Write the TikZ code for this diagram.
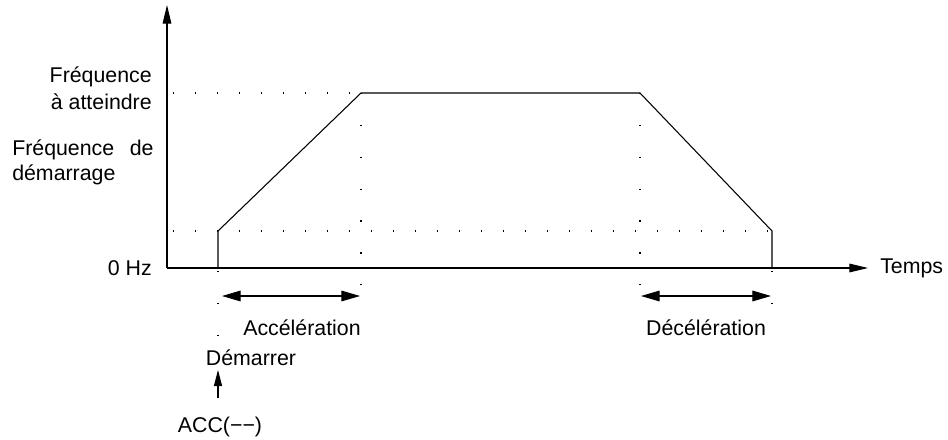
\documentclass[tikz,border=0pt]{standalone}
\usepackage{fontspec}
\setmainfont{Liberation Sans}
\usetikzlibrary{arrows.meta}
\begin{document}
\begin{tikzpicture}[x=0.75pt,y=-0.75pt,
  lbl/.style={font=\fontsize{16}{19}\selectfont,inner sep=0pt},
  ax/.style={line width=0.8pt,-{Triangle[length=14pt,width=6.5pt]}},
  crv/.style={line width=0.8pt},
  dotx/.style={line width=0.9pt,dash pattern=on 0.9pt off 15.6pt},
  doty/.style={line width=0.9pt,dash pattern=on 0.9pt off 23pt},
  dbl/.style={line width=0.8pt,{Triangle[length=14pt,width=8pt]}-{Triangle[length=14pt,width=8pt]}}]
\useasboundingbox (0,0) rectangle (948,439);
\coordinate (O) at (167,268);
\coordinate (ytop) at (167,5);
\coordinate (xend) at (868,268);
\coordinate (s0) at (218,268);
\coordinate (s1) at (218,231);
\coordinate (p1) at (361,93);
\coordinate (p2) at (640,93);
\coordinate (e1) at (772,231);
\coordinate (e0) at (772,268);
\draw[ax] (O) -- (ytop);
\draw[ax] (O) -- (xend);
\draw[crv] (s0) -- (s1) -- (p1) -- (p2) -- (e1) -- (e0);
\draw[dotx] (173,93) -- (p1);
\draw[dotx] (173,231) -- (e1);
\draw[doty] (p1) -- (361,315);
\draw[doty] (p2) -- (640,315);
\draw[doty] (s0) ++(0,3) -- (218,345);
\draw[doty] (e0) ++(0,3) -- (772,315);
\coordinate (a1) at (222,296);
\coordinate (a2) at (360,296);
\coordinate (d1) at (641,296);
\coordinate (d2) at (771,296);
\draw[dbl] (a1) -- (a2);
\draw[dbl] (d1) -- (d2);
\node[lbl,anchor=east] (f1) at (152,77) {Fréquence};
\node[lbl,anchor=east] (f2) at (152,102) {à atteindre};
\node[lbl,anchor=west] (g1) at (12,150) {\makebox[106pt][s]{Fréquence\hfill de}};
\node[lbl,anchor=west] (g2) at (12,175) {démarrage};
\node[lbl,anchor=east] (z) at (152,268) {0 Hz};
\node[lbl,anchor=west] (t) at (880,268) {Temps};
\node[lbl] (acc) at (302,328) {Accélération};
\node[lbl] (dec) at (706,328) {Décélération};
\node[lbl] (dem) at (251,358) {Démarrer};
\node[lbl] (ac) at (220,427) {ACC(−−)};
\draw[line width=0.8pt,-{Triangle[length=12pt,width=6pt]}] (218,398) -- (218,370);
\end{tikzpicture}
\end{document}
